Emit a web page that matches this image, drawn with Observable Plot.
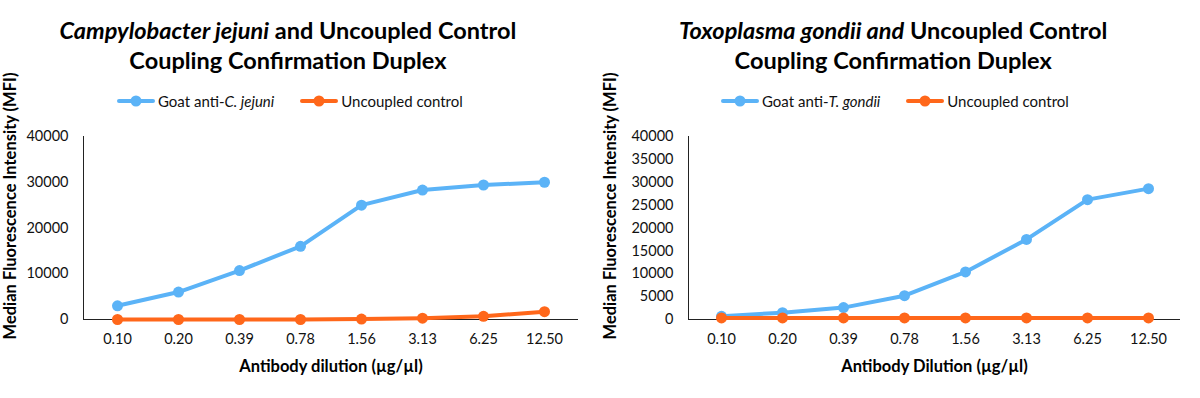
<!DOCTYPE html>
<html>
<head>
<meta charset="utf-8">
<script src="https://cdn.jsdelivr.net/npm/d3@7"></script>
<script src="https://cdn.jsdelivr.net/npm/@observablehq/plot@0.6"></script>
<style>
  html, body { margin: 0; padding: 0; background: #fff; }
  body { font-family: Lato, "Open Sans", sans-serif; color: #111; }
  #root { position: relative; width: 1200px; height: 398px; overflow: hidden; }
  .panel { position: absolute; top: 0; width: 600px; height: 398px; }
  .panel svg { position: absolute; left: 0; top: 0; }
  .title { position: absolute; top: 15px; text-align: center; font-weight: bold; font-size: 23.5px; line-height: 30px; color: #000; white-space: nowrap; }
  .legend { position: absolute; top: 91px; font-size: 15px; line-height: 20px; color: #111; white-space: nowrap; display: flex; justify-content: center; gap: 26px; }
  .legend .item { display: flex; align-items: center; }
  .legend svg { position: static; margin-right: 3px; }
  .ytitle { position: absolute; font-weight: bold; font-size: 16.5px; color: #000; white-space: nowrap; transform: translate(-50%, -50%) rotate(-90deg); }
</style>
</head>
<body>
<div id="root"></div>
<script>
// ---- Data ----
const dilutions = ["0.10", "0.20", "0.39", "0.78", "1.56", "3.13", "6.25", "12.50"];

const cjejuniGoat = [3000, 6000, 10700, 16000, 25000, 28300, 29400, 30000];
const cjejuniControl = [0, 0, 0, 0, 100, 300, 700, 1700];

const tgondiiGoat = [700, 1500, 2600, 5200, 10400, 17500, 26200, 28600];
const tgondiiControl = [350, 350, 350, 350, 350, 350, 350, 350];

const leftYTicks = [0, 10000, 20000, 30000, 40000];
const rightYTicks = [0, 5000, 10000, 15000, 20000, 25000, 30000, 35000, 40000];

const blue = "#5BB3F7";
const orange = "#FF671A";

const panels = [
  {
    left: 0,
    titleHTML: "<i>Campylobacter jejuni</i> and Uncoupled Control<br>Coupling Confirmation Duplex",
    titleCenter: 288,
    legendCenter: 290,
    series: [
      {name: "Goat anti-<i>C. jejuni</i>", values: cjejuniGoat, color: blue},
      {name: "Uncoupled control", values: cjejuniControl, color: orange}
    ],
    yTicks: leftYTicks,
    xLabel: "Antibody dilution (µg/µl)",
    marginLeft: 83, marginRight: 22
  },
  {
    left: 600,
    titleHTML: "<i>Toxoplasma gondii and</i> Uncoupled Control<br>Coupling Confirmation Duplex",
    titleCenter: 293,
    legendCenter: 295,
    series: [
      {name: "Goat anti-<i>T. gondii</i>", values: tgondiiGoat, color: blue},
      {name: "Uncoupled control", values: tgondiiControl, color: orange}
    ],
    yTicks: rightYTicks,
    xLabel: "Antibody Dilution (µg/µl)",
    marginLeft: 88, marginRight: 20
  }
];

const root = document.getElementById("root");

for (const p of panels) {
  const panel = document.createElement("div");
  panel.className = "panel";
  panel.style.left = p.left + "px";
  root.appendChild(panel);

  const rows = p.series.flatMap((s, si) =>
    dilutions.map((d, i) => ({dilution: d, value: s.values[i], series: si, color: s.color}))
  );

  const marks = [
    Plot.frame({anchor: "left", stroke: "#222", strokeWidth: 1}),
    Plot.ruleY([0], {stroke: "#222", strokeWidth: 1}),
    Plot.axisY({ticks: p.yTicks, tickSize: 0, tickPadding: 15, fontSize: 14.5, label: null, tickFormat: d => String(d)}),
    Plot.axisX({tickSize: 0, tickPadding: 14, fontSize: 14.5, label: p.xLabel, labelAnchor: "center", labelOffset: 52, labelArrow: "none"})
  ];
  p.series.forEach((s, si) => {
    const data = rows.filter(r => r.series === si);
    marks.push(Plot.line(data, {x: "dilution", y: "value", stroke: s.color, strokeWidth: 4, strokeLinejoin: "round", strokeLinecap: "round"}));
    marks.push(Plot.dot(data, {x: "dilution", y: "value", fill: s.color, r: 5.5, stroke: "none"}));
  });

  const chart = Plot.plot({
    width: 600,
    height: 398,
    marginTop: 136,
    marginBottom: 79,
    marginLeft: p.marginLeft,
    marginRight: p.marginRight,
    style: {fontFamily: "Lato, 'Open Sans', sans-serif", color: "#111", background: "transparent"},
    x: {type: "point", domain: dilutions, padding: 0.5, label: p.xLabel},
    y: {domain: [0, 40000], label: null},
    marks
  });
  panel.appendChild(chart);

  // style x axis label bold
  chart.querySelectorAll("text").forEach(t => {
    if (t.textContent === p.xLabel) { t.setAttribute("font-weight", "bold"); t.setAttribute("font-size", "16.5"); t.setAttribute("fill", "#000"); }
  });

  const title = document.createElement("div");
  title.className = "title";
  title.innerHTML = p.titleHTML;
  panel.appendChild(title);
  title.style.left = (p.titleCenter - title.offsetWidth / 2) + "px";

  const legend = document.createElement("div");
  legend.className = "legend";
  for (const s of p.series) {
    const item = document.createElement("div");
    item.className = "item";
    item.innerHTML = `<svg width="38" height="14"><line x1="2" y1="7" x2="36" y2="7" stroke="${s.color}" stroke-width="4" stroke-linecap="round"/><circle cx="19" cy="7" r="5.5" fill="${s.color}"/></svg><span>${s.name}</span>`;
    legend.appendChild(item);
  }
  panel.appendChild(legend);
  legend.style.left = (p.legendCenter - legend.offsetWidth / 2) + "px";

  const yt = document.createElement("div");
  yt.className = "ytitle";
  yt.textContent = "Median Fluorescence Intensity (MFI)";
  yt.style.left = "10px";
  yt.style.top = "206px";
  panel.appendChild(yt);
}
</script>
</body>
</html>
